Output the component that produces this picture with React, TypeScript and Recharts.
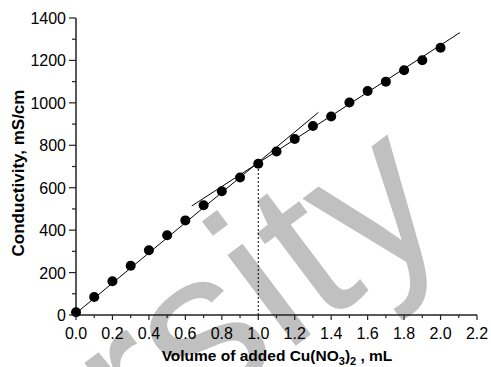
import React from 'react';
import { ScatterChart, Scatter, XAxis, YAxis, ReferenceLine } from 'recharts';

// titration data
const volume = [0, 0.1, 0.2, 0.3, 0.4, 0.5, 0.6, 0.7, 0.8, 0.9, 1.0, 1.1, 1.2, 1.3, 1.4, 1.5, 1.6, 1.7, 1.8, 1.9, 2.0];
const conductivity = [13, 85, 159, 232, 305, 376, 446, 517, 583, 648, 713, 771, 830, 891, 936, 1002, 1056, 1100, 1154, 1201, 1260];

// fitted lines (endpoints) and the equivalence point
const fitLow = [{ x: 0, y: 8 }, { x: 1.33, y: 955 }];
const fitHigh = [{ x: 0.635, y: 514 }, { x: 2.106, y: 1331 }];
const equivalence = { x: 1.0, y: 713 };

const xTicks = [0, 0.1, 0.2, 0.3, 0.4, 0.5, 0.6, 0.7, 0.8, 0.9, 1.0, 1.1, 1.2, 1.3, 1.4, 1.5, 1.6, 1.7, 1.8, 1.9, 2.0, 2.1, 2.2];
const yTicks = [0, 100, 200, 300, 400, 500, 600, 700, 800, 900, 1000, 1100, 1200, 1300, 1400];

const data = volume.map((v, i) => ({ x: v, y: conductivity[i] }));

const font = 'Arial, "Liberation Sans", Helvetica, sans-serif';
const axisColor = '#222';

const XTick = (props: any) => {
  const { x, y, payload } = props;
  const v = payload.value;
  const major = Math.round(v * 10) % 2 === 0;
  return (
    <g>
      <line x1={x} y1={y} x2={x} y2={y + (major ? 5 : 3)} stroke={axisColor} strokeWidth={1.2} />
      {major && (
        <text x={x} y={y + 24} textAnchor="middle" fontSize={16} fontFamily={font} fill="#000">
          {v.toFixed(1)}
        </text>
      )}
    </g>
  );
};

const YTick = (props: any) => {
  const { x, y, payload } = props;
  const v = payload.value;
  const major = v % 200 === 0;
  return (
    <g>
      <line x1={x} y1={y} x2={x - (major ? 7 : 4)} y2={y} stroke={axisColor} strokeWidth={1.2} />
      {major && (
        <text x={x - 10} y={y + 6} textAnchor="end" fontSize={16} fontFamily={font} fill="#000">
          {v}
        </text>
      )}
    </g>
  );
};

const Dot = (props: any) => <circle cx={props.cx} cy={props.cy} r={5} fill="#000" />;

export default function App() {
  return (
    <div style={{ position: 'absolute', left: 0, top: 0, width: 491, height: 367, background: '#fff' }}>
      <svg width={491} height={367} style={{ position: 'absolute', left: 0, top: 0 }}>
        <text
          x={200}
          y={418}
          transform="rotate(-37, 200, 418)"
          textAnchor="middle"
          fontSize={215}
          fontFamily={font}
          fill="#c0c0c0"
        >
          Varsity
        </text>
      </svg>
      <div style={{ position: 'absolute', left: 0, top: 0 }}>
        <ScatterChart width={491} height={367} margin={{ top: 18, right: 14, bottom: 0, left: 0 }}>
          <XAxis
            type="number"
            dataKey="x"
            domain={[0, 2.2]}
            ticks={xTicks}
            interval={0}
            height={52}
            tickSize={0}
            tickMargin={0}
            tick={<XTick />}
            axisLine={{ stroke: axisColor, strokeWidth: 1.5 }}
          />
          <YAxis
            type="number"
            dataKey="y"
            domain={[0, 1400]}
            ticks={yTicks}
            interval={0}
            width={76}
            tickSize={0}
            tickMargin={0}
            tick={<YTick />}
            axisLine={{ stroke: axisColor, strokeWidth: 1.5 }}
          />
          <ReferenceLine
            segment={[{ x: equivalence.x, y: 0 }, equivalence]}
            stroke="#000"
            strokeWidth={1}
            strokeDasharray="2 2"
          />
          <ReferenceLine segment={fitLow} stroke="#000" strokeWidth={1} />
          <ReferenceLine segment={fitHigh} stroke="#000" strokeWidth={1} />
          <Scatter data={data} shape={<Dot />} isAnimationActive={false} />
        </ScatterChart>
      </div>
      <svg width={491} height={367} style={{ position: 'absolute', left: 0, top: 0, pointerEvents: 'none' }}>
        <text
          x={20}
          y={173}
          transform="rotate(-90, 20, 173)"
          textAnchor="middle"
          dominantBaseline="middle"
          fontSize={17}
          fontWeight="bold"
          fontFamily={font}
          fill="#000"
        >
          Conductivity, mS/cm
        </text>
        <text x={277} y={361} textAnchor="middle" fontSize={15.5} fontWeight="bold" fontFamily={font} fill="#000">
          Volume of added Cu(NO
          <tspan fontSize={11} dy={4}>3</tspan>
          <tspan dy={-4}>)</tspan>
          <tspan fontSize={11} dy={4}>2</tspan>
          <tspan dy={-4}> , mL</tspan>
        </text>
      </svg>
    </div>
  );
}
